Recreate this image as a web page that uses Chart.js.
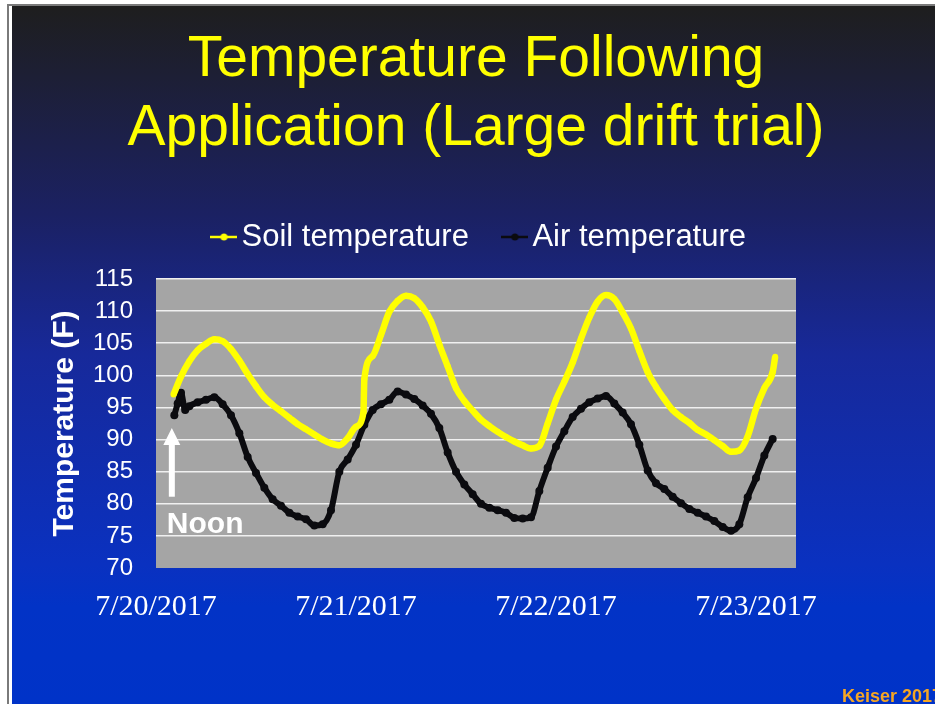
<!DOCTYPE html>
<html>
<head>
<meta charset="utf-8">
<script src="https://cdn.jsdelivr.net/npm/chart.js@4.4.1/dist/chart.umd.min.js"></script>
<style>
  html, body { margin: 0; padding: 0; background: #fff; }
  #wrap { width: 935px; height: 704px; }
</style>
</head>
<body>
<div id="wrap"><canvas id="tempChart" width="935" height="704"></canvas></div>
<script>
  'use strict';

  // hours after midnight 7/20/2017
  var tickHours = [0, 24, 48, 72];
  var dateLabels = ['7/20/2017', '7/21/2017', '7/22/2017', '7/23/2017'];

  var soilHours = [2.1, 3, 4, 5, 6, 7, 8, 9, 10, 11, 12, 13, 14, 15, 16, 17, 18, 19, 20, 21, 22, 23, 24,
    24.9, 24.95, 25, 26, 27, 28, 29, 30, 31, 32, 33, 34, 35, 36, 37, 38, 39, 40, 41, 42, 43, 44, 45, 46, 47,
    48, 49, 50, 51, 52, 53, 54, 55, 56, 57, 58, 59, 60, 61, 62, 63, 64, 65, 66, 67, 68, 69, 70, 71, 72, 73, 74, 74.3];
  var soilTemps = [97.0, 99.8, 102.2, 103.9, 104.9, 105.6, 105.3, 104.1, 102.3, 100.2, 98.3, 96.6, 95.4, 94.4,
    93.4, 92.4, 91.6, 90.8, 90.0, 89.4, 89.1, 90.2, 92.0,
    94.3, 97.0, 99.4, 103.0, 106.3, 109.9, 111.6, 112.4, 112.0, 110.6, 108.4, 104.8, 101.4, 98.0, 96.0, 94.5,
    93.1, 92.1, 91.2, 90.4, 89.7, 89.1, 88.6, 89.0, 92.5,
    96.2, 99.0, 102.0, 105.7, 109.0, 111.5, 112.5, 111.9, 109.8, 107.3, 103.8, 100.5, 98.2, 96.3, 94.6, 93.5,
    92.6, 91.5, 90.8, 89.9, 89.0, 88.1, 88.3, 90.5, 94.8, 98.0, 100.5, 102.9];

  var airHours = [2.2, 2.6, 3, 3.5, 4, 5, 6, 7, 8, 9, 10, 11, 12, 13, 14, 15, 16, 17, 18, 19, 20, 21, 22, 23, 24,
    25, 26, 27, 28, 29, 30, 31, 32, 33, 34, 35, 36, 37, 38, 39, 40, 41, 42, 43, 44, 45, 46, 47,
    48, 49, 50, 51, 52, 53, 54, 55, 56, 57, 58, 59, 60, 61, 62, 63, 64, 65, 66, 67, 68, 69, 70, 71, 72, 73, 74];
  var airTemps = [93.8, 95.6, 97.3, 94.6, 95.2, 95.8, 96.2, 96.6, 95.5, 93.8, 91.0, 87.3, 84.8, 82.5, 80.7, 79.7, 78.6,
    78.0, 77.6, 76.6, 76.8, 79.0, 85.0, 86.9, 89.2,
    92.3, 94.6, 95.5, 96.2, 97.5, 97.0, 96.3, 95.3, 94.0, 91.8, 88.0, 85.0, 83.0, 81.5, 80.0, 79.4, 79.0,
    78.6, 77.8, 77.7, 77.9, 82.0, 85.6,
    88.9, 91.3, 93.5, 94.8, 95.8, 96.4, 96.8, 95.6, 94.2, 92.4, 89.2, 85.2, 83.2, 82.3, 81.1, 80.1, 79.2,
    78.6, 78.0, 77.3, 76.4, 75.8, 76.8, 81.0, 84.0, 87.5, 90.1];

  function toPoints(xs, ys) {
    return xs.map(function (x, i) { return { x: x, y: ys[i] }; });
  }

  // legend marker: short line with a dot
  function legendMarker(color) {
    var c = document.createElement('canvas');
    c.width = 27; c.height = 10;
    var g = c.getContext('2d');
    g.strokeStyle = color; g.lineWidth = 2.5;
    g.beginPath(); g.moveTo(0, 5); g.lineTo(27, 5); g.stroke();
    g.fillStyle = color;
    g.beginPath(); g.arc(13.5, 5, 3.5, 0, Math.PI * 2); g.fill();
    return c;
  }

  var slidePlugin = {
    id: 'slide',
    beforeInit: function (chart) {
      var fit = chart.legend.fit;
      chart.legend.fit = function () {
        fit.call(chart.legend);
        this.height += 16.5;
      };
    },
    afterLayout: function (chart) {
      // legend sits a little right of the slide centre
      chart.legend.left += 8;
      chart.legend.right += 8;
    },
    beforeDraw: function (chart) {
      var ctx = chart.ctx, w = chart.width, h = chart.height, a = chart.chartArea;
      ctx.save();
      ctx.fillStyle = '#ffffff';
      ctx.fillRect(0, 0, w, h);
      ctx.fillStyle = '#7a7a7a';
      ctx.fillRect(7, 4, 2, h - 4);
      ctx.fillRect(7, 4, w - 7, 2);
      var grad = ctx.createLinearGradient(0, 6, 0, h);
      grad.addColorStop(0, '#1e1e1e');
      grad.addColorStop(0.3, '#1b2163');
      grad.addColorStop(0.5, '#17299a');
      grad.addColorStop(0.8, '#0a31c0');
      grad.addColorStop(0.86, '#0233c6');
      grad.addColorStop(1, '#0033c8');
      ctx.fillStyle = grad;
      ctx.fillRect(12, 6, w - 12, h - 6);
      ctx.fillStyle = '#a5a5a5';
      ctx.fillRect(a.left, a.top, a.right - a.left, a.bottom - a.top);
      ctx.restore();
    },
    afterDatasetsDraw: function (chart) {
      var ctx = chart.ctx, xs = chart.scales.x, ys = chart.scales.y;
      var ax = xs.getPixelForValue(1.9);
      var tip = ys.getPixelForValue(91.8);
      var base = ys.getPixelForValue(81.1);
      ctx.save();
      ctx.fillStyle = '#ffffff';
      ctx.fillRect(ax - 3, tip + 15, 6, base - tip - 15);
      ctx.beginPath();
      ctx.moveTo(ax, tip);
      ctx.lineTo(ax + 8.5, tip + 17);
      ctx.lineTo(ax - 8.5, tip + 17);
      ctx.closePath();
      ctx.fill();
      ctx.font = 'bold 30px "Liberation Sans", Arial, sans-serif';
      ctx.textBaseline = 'alphabetic';
      ctx.textAlign = 'left';
      ctx.fillText('Noon', ax - 5, ys.getPixelForValue(75.4));
      ctx.restore();
    },
    afterDraw: function (chart) {
      var ctx = chart.ctx;
      ctx.save();
      ctx.fillStyle = '#f5a623';
      ctx.font = 'bold 18px "Liberation Sans", Arial, sans-serif';
      ctx.textBaseline = 'alphabetic';
      ctx.fillText('Keiser 2017', chart.width - 93, chart.height - 2);
      ctx.restore();
    }
  };

  var ctx = document.getElementById('tempChart').getContext('2d');
  var tempChart = new Chart(ctx, {
    type: 'line',
    data: {
      datasets: [{
        label: 'Soil temperature',
        data: toPoints(soilHours, soilTemps),
        borderColor: '#ffff00',
        backgroundColor: '#ffff00',
        borderWidth: 6.5,
        pointRadius: 3,
        pointBorderWidth: 0,
        cubicInterpolationMode: 'monotone',
        fill: false
      }, {
        label: 'Air temperature',
        data: toPoints(airHours, airTemps),
        borderColor: '#0b0b0f',
        backgroundColor: '#0b0b0f',
        borderWidth: 6,
        pointRadius: 4,
        pointBorderWidth: 0,
        cubicInterpolationMode: 'monotone',
        fill: false
      }]
    },
    options: {
      responsive: false,
      animation: false,
      layout: { padding: { left: 17, right: 0, top: 0, bottom: 0 } },
      plugins: {
        tooltip: { enabled: false },
        title: {
          display: true,
          text: ['Temperature Following', 'Application (Large drift trial)'],
          color: '#ffff00',
          font: { family: '"Liberation Sans", Arial, sans-serif', size: 57, weight: 'normal', lineHeight: 69 / 57 },
          padding: { top: 26, bottom: 13.5 }
        },
        legend: {
          display: true,
          position: 'top',
          labels: {
            color: '#ffffff',
            font: { family: '"Liberation Sans", Arial, sans-serif', size: 31 },
            usePointStyle: true,
            pointStyleWidth: 4,
            padding: 44,
            generateLabels: function (chart) {
              var items = Chart.defaults.plugins.legend.labels.generateLabels(chart);
              items.forEach(function (it) {
                it.pointStyle = legendMarker(chart.data.datasets[it.datasetIndex].borderColor);
                it.fontColor = '#ffffff';
              });
              return items;
            }
          }
        }
      },
      scales: {
        x: {
          type: 'linear',
          min: 0,
          max: 76.8,
          afterBuildTicks: function (scale) {
            scale.ticks = tickHours.map(function (v) { return { value: v }; });
          },
          afterFit: function (scale) { scale.height = 136; },
          grid: { display: false },
          border: { display: false },
          ticks: {
            autoSkip: false,
            maxRotation: 0,
            padding: 13,
            color: '#ffffff',
            font: { family: '"Liberation Serif", "Times New Roman", serif', size: 30 },
            callback: function (v) { return dateLabels[tickHours.indexOf(v)]; }
          }
        },
        y: {
          min: 70,
          max: 115,
          afterFit: function (scale) { scale.width = 139; },
          ticks: {
            stepSize: 5,
            padding: 23,
            color: '#ffffff',
            font: { family: '"Liberation Sans", Arial, sans-serif', size: 24 }
          },
          grid: {
            drawTicks: false,
            lineWidth: 1.5,
            color: function (c) { return c.tick && c.tick.value === 70 ? 'rgba(0,0,0,0)' : '#f0f0f0'; }
          },
          border: { display: false },
          title: {
            display: true,
            text: 'Temperature (F)',
            color: '#ffffff',
            font: { family: '"Liberation Sans", Arial, sans-serif', size: 30, weight: 'bold' },
            padding: { top: 30, bottom: 0 }
          }
        },
        yRight: {
          position: 'right',
          afterFit: function (scale) { scale.width = 139; },
          ticks: { display: false },
          grid: { display: false },
          border: { display: false }
        }
      }
    },
    plugins: [slidePlugin]
  });
</script>
</body>
</html>
